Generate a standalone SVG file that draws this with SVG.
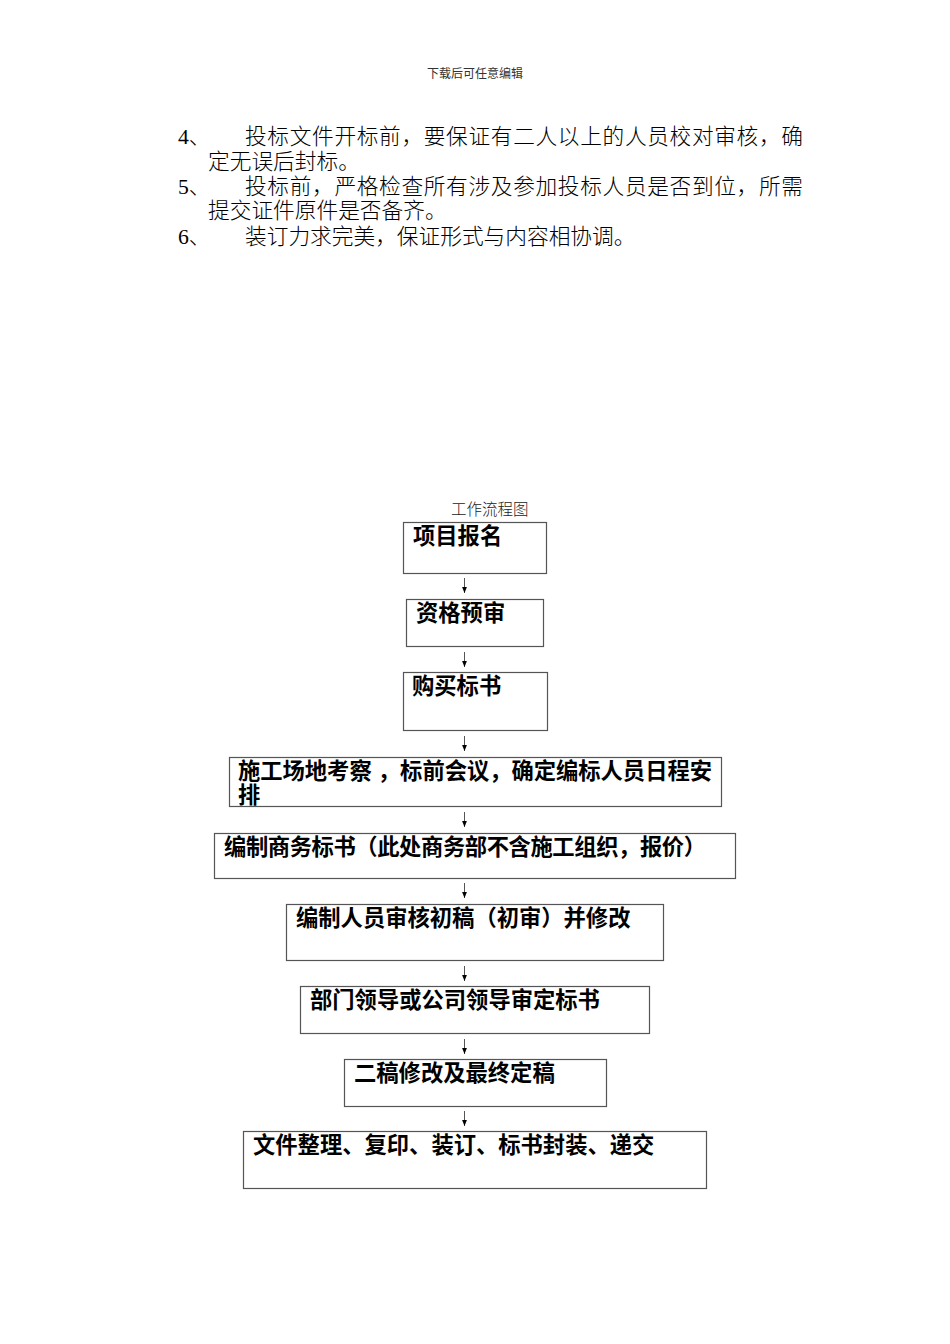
<svg xmlns="http://www.w3.org/2000/svg" width="950" height="1344" viewBox="0 0 950 1344">
<style>
.hdr{font-family:"Liberation Serif","Noto Sans CJK SC",serif;font-size:12px;fill:#333}
.body{font-family:"Liberation Serif","Noto Sans CJK SC",serif;font-size:21.7px;fill:#000;font-weight:300}
.ttl{font-family:"Liberation Serif","Noto Sans CJK SC",serif;font-size:15.5px;fill:#222;font-weight:300}
.box{fill:#fff;stroke:#555;stroke-width:1.2}
.lbl{font-family:"Liberation Sans","Noto Sans CJK SC",sans-serif;font-size:22.3px;font-weight:bold;fill:#000}
.arr{stroke:#555;stroke-width:1;marker-end:url(#ah)}
</style>
<defs>
<marker id="ah" markerWidth="6" markerHeight="6" refX="6" refY="3" orient="auto" markerUnits="userSpaceOnUse" viewBox="0 0 6 6">
<path d="M0,0.6 L6,3 L0,5.4 Z" fill="#000"/>
</marker>
</defs>
<rect width="950" height="1344" fill="#fff"/>
<text class="hdr" x="475" y="78" text-anchor="middle">下载后可任意编辑</text>
<g id="list">
<text class="body" x="178" y="144">4、</text>
<text class="body" x="245" y="144" textLength="558" lengthAdjust="spacing">投标文件开标前，要保证有二人以上的人员校对审核，确</text>
<text class="body" x="208" y="169">定无误后封标。</text>
<text class="body" x="178" y="194">5、</text>
<text class="body" x="245" y="194" textLength="558" lengthAdjust="spacing">投标前，严格检查所有涉及参加投标人员是否到位，所需</text>
<text class="body" x="208" y="218">提交证件原件是否备齐。</text>
<text class="body" x="178" y="244">6、</text>
<text class="body" x="245" y="244">装订力求完美，保证形式与内容相协调。</text>
</g>
<text class="ttl" x="451" y="515">工作流程图</text>
<g id="n1"><rect class="box" x="403.5" y="522.5" width="143" height="51"/><text class="lbl" x="413" y="544">项目报名</text></g>
<g id="n2"><rect class="box" x="406.5" y="599.5" width="137" height="47"/><text class="lbl" x="416" y="621">资格预审</text></g>
<g id="n3"><rect class="box" x="403.5" y="672.5" width="144" height="58"/><text class="lbl" x="412" y="694">购买标书</text></g>
<g id="n4"><rect class="box" x="229.5" y="757.5" width="492" height="49"/><text class="lbl" x="238" y="779" textLength="474" lengthAdjust="spacing">施工场地考察 ，标前会议，确定编标人员日程安</text><text class="lbl" x="238" y="803">排</text></g>
<g id="n5"><rect class="box" x="214.5" y="833.5" width="521" height="45"/><text class="lbl" x="224" y="855" textLength="482" lengthAdjust="spacing">编制商务标书（此处商务部不含施工组织，报价）</text></g>
<g id="n6"><rect class="box" x="286.5" y="904.5" width="377" height="56"/><text class="lbl" x="296" y="926">编制人员审核初稿（初审）并修改</text></g>
<g id="n7"><rect class="box" x="300.5" y="986.5" width="349" height="47"/><text class="lbl" x="310" y="1008">部门领导或公司领导审定标书</text></g>
<g id="n8"><rect class="box" x="344.5" y="1059.5" width="262" height="47"/><text class="lbl" x="354" y="1081">二稿修改及最终定稿</text></g>
<g id="n9"><rect class="box" x="243.5" y="1131.5" width="463" height="57"/><text class="lbl" x="253" y="1153">文件整理、复印、装订、标书封装、递交</text></g>
<g id="connectors">
<line class="arr" x1="464.5" y1="578" x2="464.5" y2="593"/>
<line class="arr" x1="464.5" y1="652" x2="464.5" y2="667"/>
<line class="arr" x1="464.5" y1="736" x2="464.5" y2="751"/>
<line class="arr" x1="464.5" y1="812" x2="464.5" y2="827"/>
<line class="arr" x1="464.5" y1="883" x2="464.5" y2="898"/>
<line class="arr" x1="464.5" y1="966" x2="464.5" y2="981"/>
<line class="arr" x1="464.5" y1="1039" x2="464.5" y2="1054"/>
<line class="arr" x1="464.5" y1="1111" x2="464.5" y2="1126"/>
</g>
</svg>
